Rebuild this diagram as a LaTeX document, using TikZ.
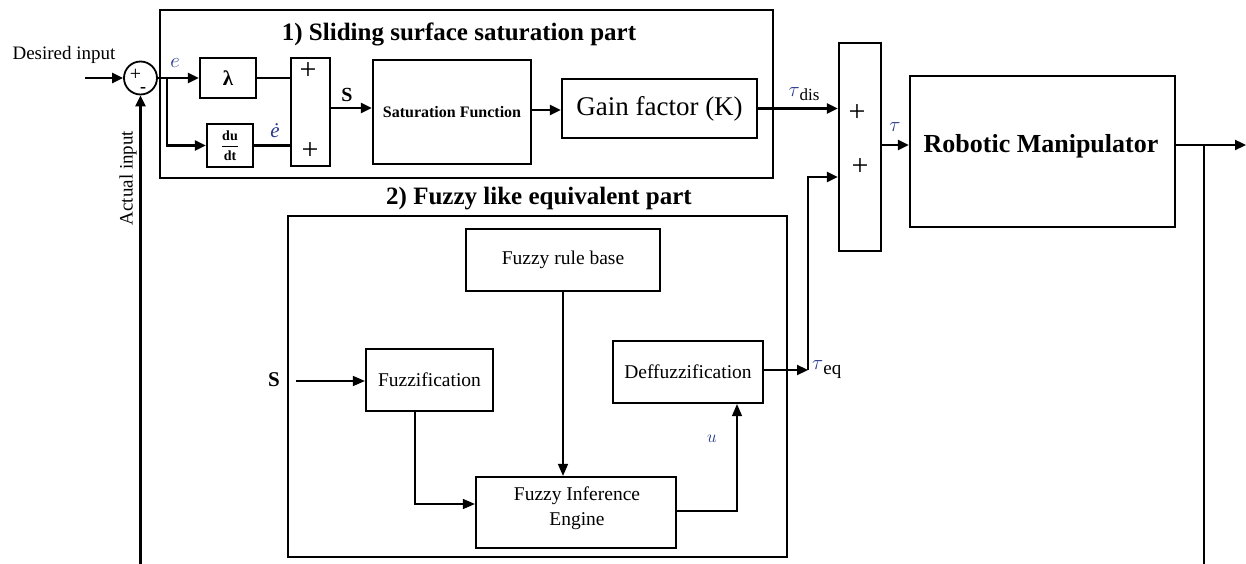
\documentclass[tikz,border=0pt]{standalone}
\usepackage{fontspec}
\setmainfont{Liberation Serif}
\usetikzlibrary{arrows.meta}
\definecolor{sigblue}{RGB}{38,56,140}
\newcommand{\fsz}[1]{\fontsize{#1}{#1}\selectfont}
\begin{document}
\begin{tikzpicture}[x=1pt,y=-1pt,
  blk/.style={draw, line width=2.2pt, inner sep=0pt, align=center},
  frm/.style={draw, line width=2.2pt, inner sep=0pt},
  wire/.style={line width=2.2pt},
  sig/.style={line width=2.2pt, -{Triangle[length=11pt,width=10pt]}},
  fsig/.style={line width=1.5pt, -{Triangle[length=12pt,width=10pt]}},
  lbl/.style={inner sep=0pt},
  ttl/.style={inner sep=0pt, font=\fsz{25}\bfseries},
  var/.style={inner sep=0pt, text=sigblue}]
\useasboundingbox (0,0) rectangle (1246,564);

% ---- frames of the two controller parts
\node[frm, minimum width=613pt, minimum height=168pt] (part1) at (466.5,94) {};
\node[frm, minimum width=499pt, minimum height=341pt] (part2) at (537.5,386.5) {};
\node[ttl] (t1) at (459,34) {1) Sliding surface saturation part};
\node[ttl] (t2) at (539,199) {2) Fuzzy like equivalent part};

% ---- error summing junction
\node[draw, circle, line width=1.8pt, minimum size=33pt, inner sep=0pt] (sum) at (140.5,78) {};
\node[lbl, font=\fsz{20}] (sump) at (135.5,75) {+};
\node[lbl, font=\fsz{18}\bfseries] (summ) at (143,90) {-};
\node[lbl, font=\fsz{19}] (din) at (64,55) {Desired input};
\node[lbl, font=\fsz{19}, rotate=90] (act) at (128,178) {Actual input};

% ---- sliding surface blocks
\node[blk, minimum width=56pt, minimum height=40pt, font=\fsz{21}\bfseries] (lam) at (228,78) {λ};
\node[blk, minimum width=46pt, minimum height=43pt, font=\fsz{14}\bfseries] (dudt) at (230,145.5)
  {$\displaystyle\frac{\textbf{du}}{\textbf{dt}}$};
\node[blk, minimum width=39pt, minimum height=108pt] (add1) at (310.5,112) {};
\node[lbl, font=\fsz{30}] (add1a) at (308,71) {+};
\node[lbl, font=\fsz{30}] (add1b) at (310,151) {+};
\node[blk, minimum width=158pt, minimum height=104pt, font=\fsz{16}\bfseries] (sat) at (452,112) {Saturation Function};
\node[blk, minimum width=195pt, minimum height=59pt, font=\fsz{27}] (gain) at (659.5,108.5) {Gain factor (K)};

% ---- torque summation and plant
\node[blk, minimum width=42pt, minimum height=208pt] (add2) at (860,147) {};
\node[lbl, font=\fsz{30}] (add2a) at (857,113) {+};
\node[lbl, font=\fsz{30}] (add2b) at (860,167) {+};
\node[blk, minimum width=265pt, minimum height=151pt] (robot) at (1042.5,151.5) {};
\node[lbl, font=\fsz{26}\bfseries] (robtxt) at (1041,146) {Robotic Manipulator};

% ---- fuzzy equivalent part blocks
\node[blk, minimum width=194pt, minimum height=62pt, font=\fsz{19.5}] (rule) at (563,260) {Fuzzy rule base};
\node[blk, minimum width=127pt, minimum height=62pt, font=\fsz{19.5}] (fuzz) at (429.5,380) {Fuzzification};
\node[blk, minimum width=150pt, minimum height=62pt, font=\fsz{19.5}] (deff) at (688,372) {Deffuzzification};
\node[blk, minimum width=200pt, minimum height=71pt] (inf) at (576,512.5) {};
\node[lbl, font=\fsz{19.5}, align=center] (inftxt) at (577,508) {Fuzzy Inference\\[6pt]Engine};

% ---- signal labels
\node[var, font=\fsz{20}] (le) at (175,63) {$e$};
\node[var, font=\fsz{21}\itshape] (led) at (275,131) {ė};
\node[lbl, font=\fsz{20}\bfseries] (ls1) at (347,95) {S};
\node[lbl, font=\fsz{21}\bfseries] (ls2) at (274,380) {S};
\node[var, font=\fsz{19}] (lu) at (712,439) {$u$};
\node[lbl] (ltd) at (804,94) {{\fsz{22}\color{sigblue}$\tau$}{\fsz{17}\raisebox{-4pt}{dis}}};
\node[var, font=\fsz{22}] (lt) at (895,127) {$\tau$};
\node[lbl, anchor=west] (lte) at (812,370) {{\fsz{22}\color{sigblue}$\tau$}{\fsz{19}\raisebox{-5pt}{eq}}};

% ---- connection points
\coordinate (dinS) at (85,78);
\coordinate (fbL) at (140.5,564);
\coordinate (br) at (167,78);
\coordinate (teq) at (808,370);
\coordinate (outE) at (1246,145);
\coordinate (fbR) at (1204,145);
\coordinate (fbRb) at (1204,564);
\coordinate (sIn) at (296,381);

% ---- connectors, sliding part
\draw[sig] (dinS) -- (sum.west);
\draw[sig] (fbL) -- (sum.south);
\draw[wire] (sum.east) -- (br);
\draw[sig] (br) -- (lam.west);
\draw[sig] (br) |- (dudt.west);
\draw[wire] (lam.east) -- (lam.east -| add1.west);
\draw[wire] (dudt.east) -- (dudt.east -| add1.west);
\draw[sig] ([yshift=4pt]add1.east) -- ([yshift=4pt]sat.west);
\draw[sig] (sat.east |- 0,110) -- (gain.west |- 0,110);
\draw[sig] (gain.east) -- (gain.east -| add2.west);
\draw[sig] (add2.east |- 0,145) -- (robot.west |- 0,145);
\draw[sig] (robot.east |- outE) -- (outE);
\draw[wire] (fbR) -- (fbRb);

% ---- connectors, fuzzy part
\draw[fsig] (sIn) -- (fuzz.west |- sIn);
\draw[fsig] (rule.south) -- (rule.south |- inf.north);
\draw[fsig] (fuzz.south -| 415,0) |- (inf.west |- 0,504);
\draw[fsig] (inf.east |- 0,511) -| (deff.south -| 737,0);
\draw[sig] (deff.east |- teq) -- (teq);
\draw[sig] (teq) |- (add2.west |- 0,177);
\end{tikzpicture}
\end{document}
